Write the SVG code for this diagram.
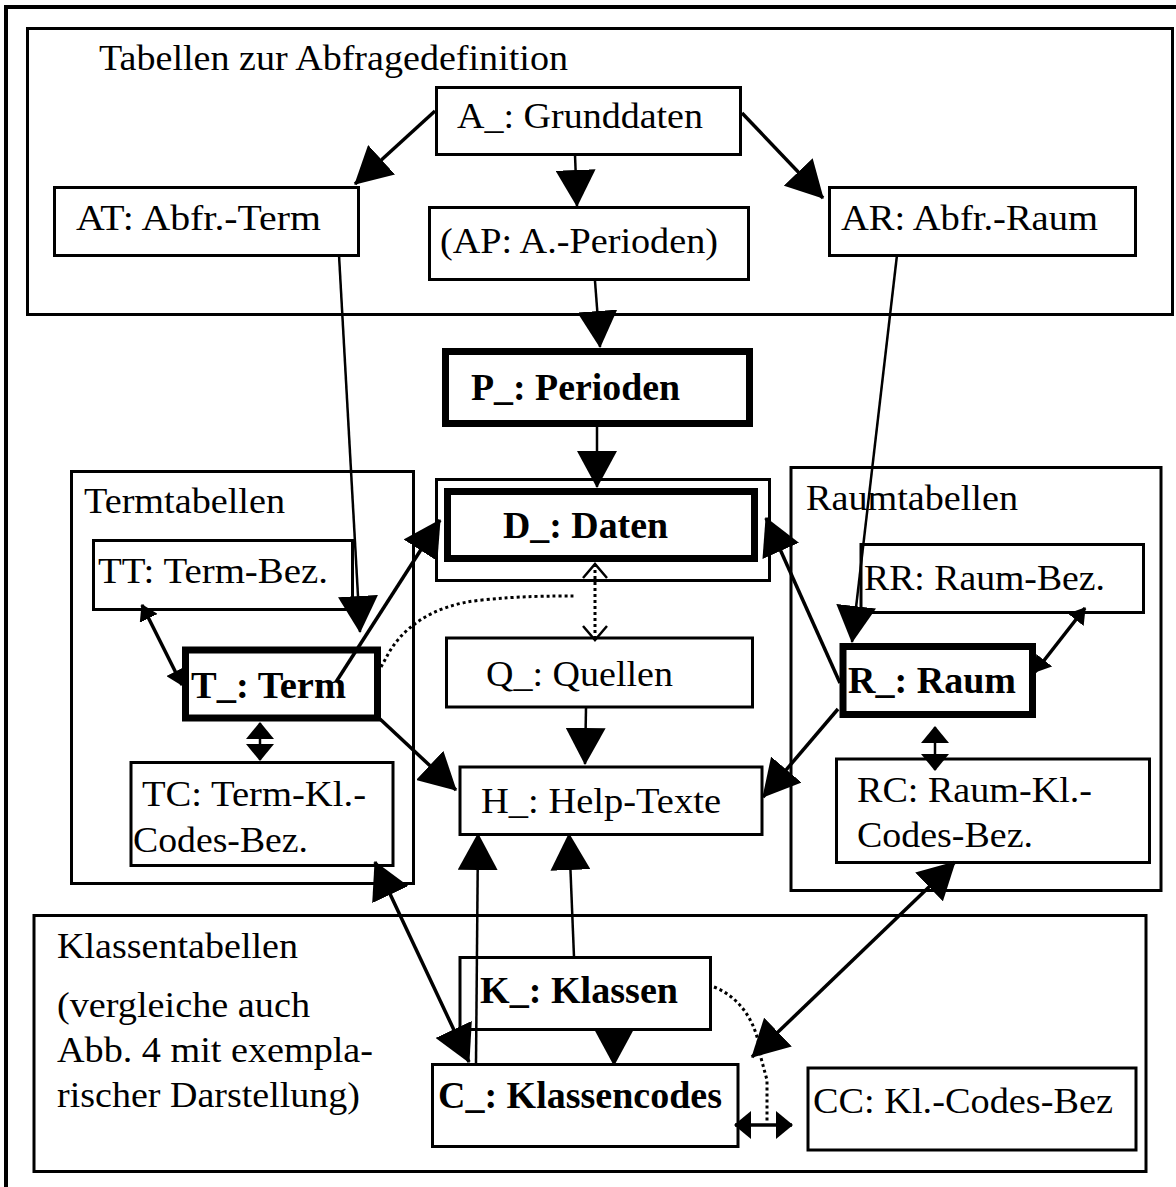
<svg xmlns="http://www.w3.org/2000/svg" width="1176" height="1187" viewBox="0 0 1176 1187">
<style>
.box{fill:#fff;stroke:#000;stroke-width:3}
.grp{fill:none;stroke:#000;stroke-width:3}
.thick{fill:#fff;stroke:#000;stroke-width:7}
.t{font-family:"Liberation Serif","Times New Roman",serif;font-size:36px;fill:#000}
.b{font-family:"Liberation Serif","Times New Roman",serif;font-size:38px;font-weight:bold;fill:#000}
.c{fill:none;stroke:#000;stroke-width:3.5}
.cn{fill:none;stroke:#000;stroke-width:2.5}
.dot{fill:none;stroke:#000;stroke-width:3;stroke-dasharray:3 3}
</style>
<defs>
<marker id="big" markerUnits="userSpaceOnUse" markerWidth="37" markerHeight="40" viewBox="0 0 37 40" refX="36" refY="20" orient="auto-start-reverse"><path d="M0,0 L37,20 L0,40 z" fill="#000"/></marker>
<marker id="small" markerUnits="userSpaceOnUse" markerWidth="16" markerHeight="20" viewBox="0 0 16 20" refX="15" refY="10" orient="auto-start-reverse"><path d="M0,0 L16,10 L0,20 z" fill="#000"/></marker>
<marker id="wide" markerUnits="userSpaceOnUse" markerWidth="17" markerHeight="28" viewBox="0 0 17 28" refX="16" refY="14" orient="auto-start-reverse"><path d="M0,0 L17,14 L0,28 z" fill="#000"/></marker>
<marker id="open" markerUnits="userSpaceOnUse" markerWidth="18" markerHeight="26" viewBox="0 0 18 26" refX="16" refY="13" orient="auto-start-reverse" overflow="visible"><path d="M2,1 L16,13 L2,25" fill="none" stroke="#000" stroke-width="2.5"/></marker>
</defs>
<rect width="1176" height="1187" fill="#fff"/>
<rect id="frame" x="6" y="7" width="1200" height="1200" fill="none" stroke="#000" stroke-width="4"/>

<g id="group-abfrage">
<rect class="grp" x="27.5" y="28.5" width="1145" height="286"/>
<text class="t" x="99" y="70" textLength="469" lengthAdjust="spacingAndGlyphs">Tabellen zur Abfragedefinition</text>
</g>
<g id="group-term">
<rect class="grp" x="71.5" y="471.5" width="342" height="412"/>
<text class="t" x="84" y="513" textLength="201" lengthAdjust="spacingAndGlyphs">Termtabellen</text>
</g>
<g id="group-raum">
<rect class="grp" x="791" y="467.5" width="370" height="423"/>
<text class="t" x="806" y="510" textLength="212" lengthAdjust="spacingAndGlyphs">Raumtabellen</text>
</g>
<g id="group-klassen">
<rect class="grp" x="34" y="915.5" width="1112" height="256"/>
<text class="t" x="57" y="958" textLength="241" lengthAdjust="spacingAndGlyphs">Klassentabellen</text>
<text class="t" x="57" y="1017" textLength="253" lengthAdjust="spacingAndGlyphs">(vergleiche auch</text>
<text class="t" x="57" y="1062" textLength="316" lengthAdjust="spacingAndGlyphs">Abb. 4 mit exempla-</text>
<text class="t" x="57" y="1107" textLength="303" lengthAdjust="spacingAndGlyphs">rischer Darstellung)</text>
</g>

<g id="node-A">
<rect class="box" x="436.5" y="87.5" width="304" height="67"/>
<text class="t" x="457" y="128" textLength="246" lengthAdjust="spacingAndGlyphs">A_: Grunddaten</text>
</g>
<g id="node-AT">
<rect class="box" x="54.5" y="187.5" width="304" height="68"/>
<text class="t" x="76" y="230" textLength="245" lengthAdjust="spacingAndGlyphs">AT: Abfr.-Term</text>
</g>
<g id="node-AP">
<rect class="box" x="429.5" y="207.5" width="319" height="72"/>
<text class="t" x="440" y="253" textLength="278" lengthAdjust="spacingAndGlyphs">(AP: A.-Perioden)</text>
</g>
<g id="node-AR">
<rect class="box" x="829.5" y="187.5" width="306" height="68"/>
<text class="t" x="841" y="230" textLength="257" lengthAdjust="spacingAndGlyphs">AR: Abfr.-Raum</text>
</g>
<g id="node-P">
<rect class="thick" x="445.5" y="351.5" width="304" height="72"/>
<text class="b" x="471" y="400" textLength="209" lengthAdjust="spacingAndGlyphs">P_: Perioden</text>
</g>
<g id="node-D">
<rect class="box" x="436.5" y="479.5" width="333" height="101"/>
<rect class="thick" x="447.5" y="491.5" width="307" height="67"/>
<text class="b" x="503" y="538" textLength="165" lengthAdjust="spacingAndGlyphs">D_: Daten</text>
</g>
<g id="node-TT">
<rect class="box" x="93.5" y="540.5" width="259" height="69"/>
<text class="t" x="98" y="583" textLength="230" lengthAdjust="spacingAndGlyphs">TT: Term-Bez.</text>
</g>
<g id="node-T">
<rect class="thick" x="185.5" y="650" width="192" height="68"/>
<text class="b" x="191" y="698" textLength="155" lengthAdjust="spacingAndGlyphs">T_: Term</text>
</g>
<g id="node-TC">
<rect class="box" x="131" y="762.5" width="262" height="103"/>
<text class="t" x="142" y="806" textLength="224" lengthAdjust="spacingAndGlyphs">TC: Term-Kl.-</text>
<text class="t" x="133" y="852" textLength="175" lengthAdjust="spacingAndGlyphs">Codes-Bez.</text>
</g>
<g id="node-Q">
<rect class="box" x="446.5" y="638" width="306" height="69"/>
<text class="t" x="486" y="686" textLength="187" lengthAdjust="spacingAndGlyphs">Q_: Quellen</text>
</g>
<g id="node-H">
<rect class="box" x="460" y="767" width="302" height="67.5"/>
<text class="t" x="481" y="813" textLength="240" lengthAdjust="spacingAndGlyphs">H_: Help-Texte</text>
</g>
<g id="node-RR">
<rect class="box" x="861" y="544.5" width="282.5" height="68"/>
<text class="t" x="864" y="590" textLength="241" lengthAdjust="spacingAndGlyphs">RR: Raum-Bez.</text>
</g>
<g id="node-R">
<rect class="thick" x="843" y="646.5" width="189.5" height="68"/>
<text class="b" x="848" y="693" textLength="168" lengthAdjust="spacingAndGlyphs">R_: Raum</text>
</g>
<g id="node-RC">
<rect class="box" x="836.5" y="759" width="313" height="103.5"/>
<text class="t" x="857" y="802" textLength="235" lengthAdjust="spacingAndGlyphs">RC: Raum-Kl.-</text>
<text class="t" x="857" y="847" textLength="176" lengthAdjust="spacingAndGlyphs">Codes-Bez.</text>
</g>
<g id="node-K">
<rect class="box" x="460" y="957.5" width="250.5" height="72"/>
<text class="b" x="480" y="1003" textLength="198" lengthAdjust="spacingAndGlyphs">K_: Klassen</text>
</g>
<g id="node-C">
<rect class="box" x="432.5" y="1064.5" width="305.5" height="82"/>
<text class="b" x="438" y="1108" textLength="284" lengthAdjust="spacingAndGlyphs">C_: Klassencodes</text>
</g>
<g id="node-CC">
<rect class="box" x="808" y="1068" width="328" height="82"/>
<text class="t" x="813" y="1113" textLength="300" lengthAdjust="spacingAndGlyphs">CC: Kl.-Codes-Bez</text>
</g>

<g id="connectors">
<path class="c" d="M435,111 L355,184" marker-end="url(#big)"/>
<path class="cn" d="M575,155 L577,206" marker-end="url(#big)"/>
<path class="c" d="M742,113 L823,198" marker-end="url(#big)"/>
<path class="cn" d="M339,255 L360,632" marker-end="url(#big)"/>
<path class="cn" d="M595,281 L600,347" marker-end="url(#big)"/>
<path class="cn" d="M897,255 L852,642" marker-end="url(#big)"/>
<path class="cn" d="M597,427 L597,487" marker-end="url(#big)"/>
<path class="c" d="M336,682 L440,520" marker-end="url(#big)"/>
<path class="c" d="M840,683 L766,518" marker-end="url(#big)"/>
<path class="dot" d="M595,564 L595,640" marker-start="url(#open)" marker-end="url(#open)"/>
<path class="dot" d="M381,667 L386,658 C400,630 430,605 482,600 C520,596 550,596 575,596"/>
<path class="cn" d="M586,708 L585,764" marker-end="url(#big)"/>
<path class="c" d="M380,719 L456,790" marker-end="url(#big)"/>
<path class="c" d="M838,709 L763,797" marker-end="url(#big)"/>
<path class="c" d="M142,605 L182,685" marker-start="url(#small)" marker-end="url(#small)"/>
<path class="cn" d="M260,723 L260,760" marker-start="url(#wide)" marker-end="url(#wide)"/>
<path class="c" d="M1035,672 L1085,608" marker-start="url(#small)" marker-end="url(#small)"/>
<path class="cn" d="M935,727 L935,770" marker-start="url(#wide)" marker-end="url(#wide)"/>
<path class="c" d="M375,862 L469,1062" marker-start="url(#big)" marker-end="url(#big)"/>
<path class="cn" d="M476,1063 L478,834" marker-end="url(#big)"/>
<path class="cn" d="M574,957 L569,834" marker-end="url(#big)"/>
<path class="cn" d="M614,1030 L614,1065" marker-end="url(#big)"/>
<path class="c" d="M955,862 L752,1057" marker-start="url(#big)" marker-end="url(#big)"/>
<path class="dot" d="M714,987 C742,998 758,1025 761,1058 L767,1080 L767,1122"/>
<path class="c" d="M735,1125 L792,1125" marker-start="url(#wide)" marker-end="url(#wide)"/>
</g>
</svg>
